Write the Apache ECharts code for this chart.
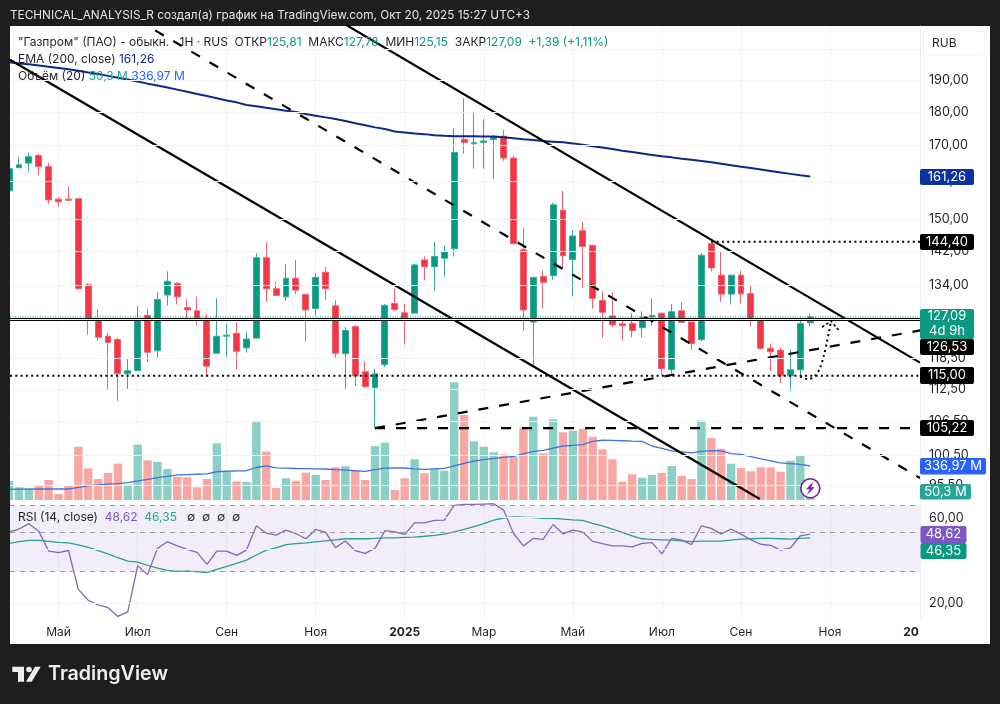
<!DOCTYPE html>
<html><head><meta charset="utf-8">
<style>html,body{margin:0;padding:0;background:#1e1e1e}#c{width:1000px;height:704px}</style>
<script src="https://cdn.jsdelivr.net/npm/echarts@6/dist/echarts.min.js"></script>
</head><body><div id="c"></div>
<script>
// Weekly Gazprom candles: [open, close, low, high]
const candles = [
[157.4,163.4,157.1,164.2],[163.7,164.5,163.6,166.7],[165.0,166.8,162.6,168.0],[167.1,164.0,161.7,167.6],
[164.0,155.0,154.0,165.1],[155.2,154.5,153.2,155.7],[155.2,154.9,154.9,158.5],[155.3,133.3,133.1,155.5],
[134.2,126.5,123.3,134.6],[126.6,122.8,122.1,128.7],[123.0,121.7,112.2,123.7],[122.3,115.4,110.2,122.6],
[115.4,116.0,112.5,118.3],[116.0,126.6,116.0,129.4],[127.4,119.7,117.7,128.9],[120.0,130.9,118.6,132.5],
[131.9,135.0,129.5,137.3],[134.5,131.5,129.8,134.8],[129.1,128.6,126.5,131.0],[128.4,126.4,125.3,131.5],
[126.5,116.9,115.1,127.7],[119.5,123.0,119.5,131.2],[123.0,123.2,118.7,125.6],[123.6,119.9,116.2,125.9],
[120.6,122.4,119.6,123.9],[122.6,140.5,122.6,141.6],[140.5,133.3,130.4,144.2],[133.3,131.8,131.8,134.8],
[131.5,135.7,130.6,138.9],[135.7,133.0,132.1,140.0],[132.0,128.6,121.9,132.2],[128.9,135.9,127.4,136.9],
[137.1,133.3,130.8,138.3],[129.5,119.5,118.6,130.7],[119.4,124.2,112.5,124.9],[125.0,115.0,113.0,125.4],
[115.8,112.9,112.7,117.9],[112.7,115.4,105.22,116.4],[117.2,129.6,116.7,129.9],[130.0,128.7,128.3,133.3],
[128.0,126.5,121.3,129.9],[127.9,138.8,127.9,139.1],[140.0,138.4,135.3,140.8],[138.4,140.8,132.9,144.3],
[140.4,141.9,136.1,143.4],[142.7,168.0,140.8,175.0],[171.8,170.9,167.6,184.2],[170.5,170.8,163.5,179.8],
[170.9,171.3,163.4,177.8],[171.7,172.6,160.6,173.1],[172.7,166.4,165.6,174.6],[166.4,143.9,143.9,167.1],
[142.4,128.6,124.2,147.9],[126.0,135.9,117.1,135.9],[136.1,134.8,129.0,137.5],[136.3,153.7,135.4,154.3],
[152.3,141.0,137.9,157.4],[140.1,145.8,131.6,147.2],[147.1,143.2,133.5,149.3],[143.5,131.1,128.9,143.5],
[130.7,128.1,122.7,132.7],[127.3,125.4,124.9,132.5],[125.6,125.2,122.1,126.6],[125.7,124.2,122.8,127.9],
[124.8,127.0,122.8,128.3],[127.1,127.4,125.2,131.1],[127.9,116.4,115.1,127.9],[116.2,128.2,115.4,129.9],
[128.4,125.9,125.7,130.3],[126.0,121.5,120.2,126.0],[122.3,141.1,121.9,141.6],[143.9,138.1,137.3,144.4],
[136.4,132.1,130.4,141.9],[132.1,136.4,129.8,136.4],[136.4,132.2,130.0,137.4],[132.2,126.3,125.1,134.1],
[126.3,120.5,120.2,126.3],[120.5,119.8,115.9,121.5],[120.1,115.0,113.6,120.6],[115.0,116.2,112.0,120.2],
[116.2,125.7,114.6,126.5],[125.81,127.09,125.15,127.78]];

const ema200 = [195.8,195.4,195.1,194.7,194.3,193.9,193.5,193.0,192.4,191.9,191.3,190.7,190.1,189.5,188.8,188.2,
187.6,186.9,186.2,185.5,184.9,184.2,183.5,182.9,182.1,181.7,181.2,180.8,180.3,179.9,179.3,178.8,178.3,177.8,177.2,176.5,
175.9,175.3,174.8,174.1,173.8,173.5,173.3,173.0,172.8,172.7,172.7,172.7,172.6,172.6,172.4,172.1,171.8,171.6,171.3,171.1,
170.9,170.6,170.2,169.8,169.4,169.0,168.5,168.1,167.7,167.3,166.9,166.6,166.2,165.9,165.6,165.2,164.8,164.4,164.0,163.6,
163.2,162.8,162.4,162.0,161.6,161.26];

// Weekly volume, millions of shares
const volume = [188,126,116,149,198,59,149,528,314,208,268,360,152,548,393,377,307,231,225,126,208,562,280,185,178,783,
479,119,215,191,271,248,198,324,334,287,198,535,568,99,215,403,265,310,290,1166,842,582,528,473,453,426,714,825,463,800,
671,687,704,627,502,403,181,255,221,248,268,337,238,208,786,614,508,360,317,284,324,324,280,389,439,50.3];
const volumeMa = [106,107,108,109,109,109,109,125,140,150,157,163,172,190,205,222,234,248,252,255,258,280,285,288,290,322,
338,318,315,312,310,308,307,300,297,290,284,300,315,317,317,308,304,309,314,337,362,385,401,412,423,433,458,482,492,514,
535,542,548,580,592,590,587,583,581,535,512,486,476,466,482,489,486,459,453,430,408,388,368,360,352,336.97];

const rsi = [50.1,51.9,55.6,50.5,39.1,38.3,39.4,23.9,20.8,19.6,18.9,16.9,17.9,32.4,28.9,40.5,44.1,41.8,40.0,38.5,33.0,39.1,
39.1,37.0,39.6,54.1,49.2,48.0,51.2,49.0,45.8,51.6,49.7,40.9,44.5,39.3,38.0,40.5,50.8,50.1,48.4,56.2,56.2,58.0,58.2,70.3,71.2,
71.2,71.5,71.8,66.2,49.0,41.8,46.0,45.4,55.0,48.8,51.2,49.9,44.3,43.0,41.8,41.8,41.3,43.2,43.6,37.7,46.0,45.0,42.5,54.1,52.3,
48.8,51.9,48.6,45.2,42.7,42.1,39.6,40.7,47.6,48.62];
const rsiMa = [43.2,44.1,44.9,44.9,44.3,43.7,43.4,42.3,41.0,39.3,37.7,35.9,34.4,33.9,32.6,31.4,30.5,30.1,30.2,30.0,29.7,30.9,
32.1,33.4,34.8,37.2,39.6,40.8,42.5,43.0,43.4,44.0,44.6,45.2,45.8,45.8,45.8,46.0,46.3,46.3,46.6,46.8,47.3,47.9,48.6,50.1,51.6,
53.6,55.6,58.2,59.8,60.7,60.4,60.2,59.6,59.5,59.0,58.4,58.0,55.8,54.0,51.9,49.7,47.5,45.8,45.4,45.2,45.0,44.6,44.2,44.4,44.4,
44.4,45.0,45.6,45.8,46.0,46.0,45.8,45.6,46.0,46.35];

// Horizontal levels and last values shown on the price scale
const lastClose = 127.09, levelBase = 126.53, levelResist = 144.40, levelSupport = 115.00, levelLow = 105.22;
const lastEma = 161.26, lastVolume = 50.3, lastVolumeMa = 336.97, lastRsi = 48.62, lastRsiMa = 46.35;

// Drawn trend lines as [week index, price]
const channelLower = [[0.09,196.6],[75.9,93.3]];
const channelMiddle = [[12.93,210.4],[92.1,96.7]];
const channelUpper = [[33.2,210.4],[92.1,117.6]];
const risingTrend = [[37,levelLow],[92.1,124.2]];
const forecastCurve = [[80.0,114.9],[80.4,114.5],[80.8,114.35],[81.5,115.0],[82.0,116.6],[82.4,119.2],[82.7,121.9],[82.9,124.0],[83.1,126.2]];
const forecastHead = [[82.2,124.9],[83.1,126.2],[83.9,124.2]];

// Scale ticks
const priceTicks = [200,190,180,170,160,150,142,134,126.5,118.5,112.5,106.5,100.5,95.5];
const rsiTicks = [60,40,20];
const rsiLabelTicks = [60,20];
const rsiBands = [70,50,30];
const timeTicks = [5,13,22,31,40,48,57,66,74,83];
const timeLabelTicks = [5,13,22,31,40,48,57,66,74,83,91.2];
const timeLabels = ['Май','Июл','Сен','Ноя','2025','Мар','Май','Июл','Сен','Ноя','20'];
const boldLabels = ['2025','20'];

const FONT = 'Inter, "Noto Sans", "DejaVu Sans", sans-serif';
const UP = '#089981', DOWN = '#f23645', GRID = '#f1f3f6', TEXT = '#1f2126', FRAME = '#1e1e1e';
const XMIN = 0.09, XMAX = 92.1;
const fmt = v => Number(v).toFixed(2).replace('.', ',');
const fmtMln = v => String(v).replace('.', ',') + ' M';

const xAxisBase = (gridIndex, extra) => Object.assign({
  type: 'value', gridIndex, min: XMIN, max: XMAX,
  axisLine: {show: false}, axisTick: {show: false, customValues: timeTicks},
  axisLabel: {show: false}, splitLine: {show: true, lineStyle: {color: GRID, width: 1}}
}, extra);

// Price-scale tag
function tag(x, y, w, h, fill, lines) {
  const out = [{type: 'rect', z: 60, shape: {x, y, width: w, height: h, r: 2}, style: {fill}, silent: true}];
  const step = h / lines.length;
  lines.forEach((t, i) => out.push({type: 'text', z: 61, silent: true, style: {
    text: t, x: x + w / 2, y: y + step * (i + 0.5), fill: '#fff', font: '13px ' + FONT,
    textAlign: 'center', textVerticalAlign: 'middle'}}));
  return out;
}
const legendRich = {
  k: {fill: TEXT, fontFamily: FONT, fontSize: 12},
  g: {fill: UP, fontFamily: FONT, fontSize: 12},
  n: {fill: '#0b2a87', fontFamily: FONT, fontSize: 12},
  t: {fill: '#26a69a', fontFamily: FONT, fontSize: 12},
  b: {fill: '#2962ff', fontFamily: FONT, fontSize: 12},
  p: {fill: '#7e57c2', fontFamily: FONT, fontSize: 12}
};
const legendLine = (y, text) => ({type: 'text', z: 55, silent: true, style: {text, x: 18, y, rich: legendRich, textVerticalAlign: 'middle'}});

const graphics = [
  {type: 'rect', z: -5, silent: true, shape: {x: 10, y: 26, width: 980, height: 618}, style: {fill: '#fff'}},
  // frame edge that trims the partly visible first week
  {type: 'rect', z: 40, silent: true, shape: {x: 0, y: 26, width: 10, height: 618}, style: {fill: FRAME}},
  {type: 'text', z: 55, silent: true, style: {text: 'TECHNICAL_ANALYSIS_R создал(а) график на TradingView.com, Окт 20, 2025 15:27 UTC+3',
    x: 10, y: 15, fill: '#e6e6e6', font: '11.8px ' + FONT, textVerticalAlign: 'middle'}},
  legendLine(42, '{k|"Газпром" (ПАО) - обыкн. · 1Н · RUS  ОТКР}{g|125,81}{k|  МАКС}{g|127,78}{k|  МИН}{g|125,15}{k|  ЗАКР}{g|' + fmt(lastClose) + '}{g|  +1,39 (+1,11%)}'),
  legendLine(59, '{k|EMA (200, close) }{n|' + fmt(lastEma) + '}'),
  legendLine(76, '{k|Объём (20) }{t|' + fmtMln(lastVolume) + '}{b| ' + fmtMln(lastVolumeMa) + '}'),
  legendLine(517, '{k|RSI (14, close)  }{p|' + fmt(lastRsi) + '}{t|  ' + fmt(lastRsiMa) + '}{k|   ∅  ∅  ∅  ∅}'),
  // currency box
  {type: 'rect', z: 50, silent: true, shape: {x: 923, y: 31, width: 62, height: 24, r: 3}, style: {fill: '#fff', stroke: '#f0f1f3', lineWidth: 1}},
  {type: 'text', z: 51, silent: true, style: {text: 'RUB', x: 932, y: 43, fill: TEXT, font: '12px ' + FONT, textVerticalAlign: 'middle'}},
  ...tag(920, 169, 54, 16, '#0b33a0', [fmt(lastEma)]),
  ...tag(920, 234, 54, 16, '#000', [fmt(levelResist)]),
  ...tag(920, 309, 54, 30, '#0a9a82', [fmt(lastClose), '4d 9h']),
  ...tag(920, 339, 54, 16, '#000', [fmt(levelBase)]),
  ...tag(920, 367, 54, 17, '#000', [fmt(levelSupport)]),
  ...tag(920, 420, 54, 16, '#000', [fmt(levelLow)]),
  ...tag(920, 458, 66, 16.5, '#2962ff', [fmtMln(lastVolumeMa)]),
  ...tag(920, 484, 51, 15.5, '#26a69a', [fmtMln(lastVolume)]),
  ...tag(920.5, 526, 46, 17, '#7e57c2', [fmt(lastRsi)]),
  ...tag(920.5, 543, 46, 16, UP, [fmt(lastRsiMa)]),
  // event badge on the last bar
  {type: 'circle', z: 55, silent: true, shape: {cx: 810.3, cy: 488.3, r: 9.5}, style: {fill: '#fff', stroke: '#7b1fa2', lineWidth: 1.6}},
  {type: 'polygon', z: 56, silent: true, shape: {points: [[813.5,481.5],[806,489.3],[809.7,489.3],[807,495],[814.7,487.3],[811,487.3]]}, style: {fill: '#7b1fa2'}},
  // footer brand mark
  {type: 'polygon', z: 55, silent: true, shape: {points: [[12.3,666.7],[24,666.7],[24,681.7],[18,681.7],[18,672],[12.3,672]]}, style: {fill: '#eeeeee'}},
  {type: 'circle', z: 55, silent: true, shape: {cx: 29, cy: 669.5, r: 2.8}, style: {fill: '#eeeeee'}},
  {type: 'polygon', z: 55, silent: true, shape: {points: [[35,666.7],[40.7,666.7],[31.7,681.7],[26,681.7]]}, style: {fill: '#eeeeee'}},
  {type: 'text', z: 55, silent: true, style: {text: 'TradingView', x: 48, y: 674, fill: '#eeeeee', font: '600 19.7px ' + FONT, textVerticalAlign: 'middle'}}
];

const drawing = (data, lineStyle, extra) => Object.assign({
  type: 'line', xAxisIndex: 0, yAxisIndex: 0, data, symbol: 'none', silent: true,
  clip: true, z: 4, lineStyle: Object.assign({color: '#000', width: 2.2}, lineStyle)
}, extra);
const level = (price, from, lineStyle) => drawing([[from, price], [XMAX, price]], lineStyle);

const DOTS = {type: [2, 3.3], width: 2};
const DASH = {type: [10, 11], width: 2.2};

const option = {
  backgroundColor: FRAME,
  animation: false,
  textStyle: {fontFamily: FONT},
  grid: [
    {left: 10, width: 910, top: 26, height: 474},
    {left: 10, width: 910, top: 380, height: 120},
    {left: 10, width: 910, top: 503, height: 115}
  ],
  xAxis: [
    xAxisBase(0),
    xAxisBase(1, {splitLine: {show: false}}),
    xAxisBase(2, {axisLabel: {
      show: true, customValues: timeLabelTicks, margin: 8, fontSize: 12, color: TEXT, fontFamily: FONT,
      formatter: v => {
        const s = timeLabels[timeLabelTicks.indexOf(v)] || '';
        return boldLabels.includes(s) ? '{b|' + s + '}' : s;
      },
      rich: {b: {fontWeight: 700, fontSize: 12, color: TEXT, fontFamily: FONT}}
    }})
  ],
  yAxis: [
    {type: 'log', logBase: 10, gridIndex: 0, position: 'right', min: 93.15, max: 208.2, z: 10,
     axisLine: {show: true, lineStyle: {color: '#eceef2'}},
     axisTick: {show: false, customValues: priceTicks},
     axisLabel: {customValues: priceTicks, margin: 9, fontSize: 12.6, color: TEXT, fontFamily: FONT, formatter: fmt},
     splitLine: {show: true, lineStyle: {color: GRID}}},
    {type: 'value', gridIndex: 1, min: 0, max: 1189, show: false, splitLine: {show: false}},
    {type: 'log', logBase: 10, gridIndex: 2, position: 'right', min: 16.56, max: 72.5, z: 10,
     axisLine: {show: true, lineStyle: {color: '#eceef2'}},
     axisTick: {show: false, customValues: rsiTicks},
     axisLabel: {customValues: rsiLabelTicks, margin: 9, fontSize: 12.6, color: TEXT, fontFamily: FONT, formatter: fmt},
     splitLine: {show: true, lineStyle: {color: GRID}}}
  ],
  series: [
    {type: 'bar', name: 'Volume', xAxisIndex: 1, yAxisIndex: 1, barWidth: 8.4, silent: true, clip: true,
     data: volume.map((v, i) => ({value: [i, v], itemStyle: {
       color: candles[i][1] >= candles[i][0] ? '#8ccfc4' : '#f7a7a4'}}))},
    {type: 'line', name: 'Volume MA', xAxisIndex: 1, yAxisIndex: 1, data: volumeMa.map((v, i) => [i, v]),
     symbol: 'none', silent: true, lineStyle: {color: '#4472d8', width: 1.3}},
    {type: 'candlestick', name: 'Газпром', xAxisIndex: 0, yAxisIndex: 0, barWidth: 6.4, silent: true, z: 3,
     data: candles.map((c, i) => [i, ...c]),
     itemStyle: {color: UP, color0: DOWN, borderColor: '#35a996', borderColor0: '#f0606d', borderWidth: 1}},
    {type: 'line', name: 'EMA 200', xAxisIndex: 0, yAxisIndex: 0, data: ema200.map((v, i) => [i, v]),
     symbol: 'none', silent: true, z: 4, lineStyle: {color: '#0b2a87', width: 2}},
    drawing(channelLower, {}),
    drawing(channelMiddle, DASH),
    drawing(channelUpper, {}),
    drawing(risingTrend, DASH),
    level(lastClose, XMIN, {color: UP, width: 1, type: [1, 1.5]}),
    level(levelBase, XMIN, {width: 3}),
    level(levelSupport, XMIN, DOTS),
    level(levelResist, 71, DOTS),
    level(levelLow, 37, DASH),
    drawing(forecastCurve, DOTS, {smooth: 0.3}),
    drawing(forecastHead, {type: [2.5, 2.5], width: 1.6}),
    {type: 'line', name: 'RSI MA', xAxisIndex: 2, yAxisIndex: 2, data: rsiMa.map((v, i) => [i, v]),
     symbol: 'none', silent: true, lineStyle: {color: '#2b9f8c', width: 1.3}},
    {type: 'line', name: 'RSI', xAxisIndex: 2, yAxisIndex: 2, data: rsi.map((v, i) => [i, v]),
     symbol: 'none', silent: true, z: 3, lineStyle: {color: '#8468b8', width: 1.3},
     markArea: {silent: true, itemStyle: {color: 'rgba(126,87,194,0.1)'}, data: [[{yAxis: rsiBands[0]}, {yAxis: rsiBands[2]}]]},
     markLine: {silent: true, symbol: 'none', label: {show: false},
       lineStyle: {color: '#9a9ca6', type: [5, 5], width: 1},
       data: rsiBands.map(v => ({yAxis: v}))}}
  ],
  graphic: graphics
};
const chart = echarts.init(document.getElementById('c'), null, {renderer: 'canvas'});
chart.setOption(option);
</script></body></html>
